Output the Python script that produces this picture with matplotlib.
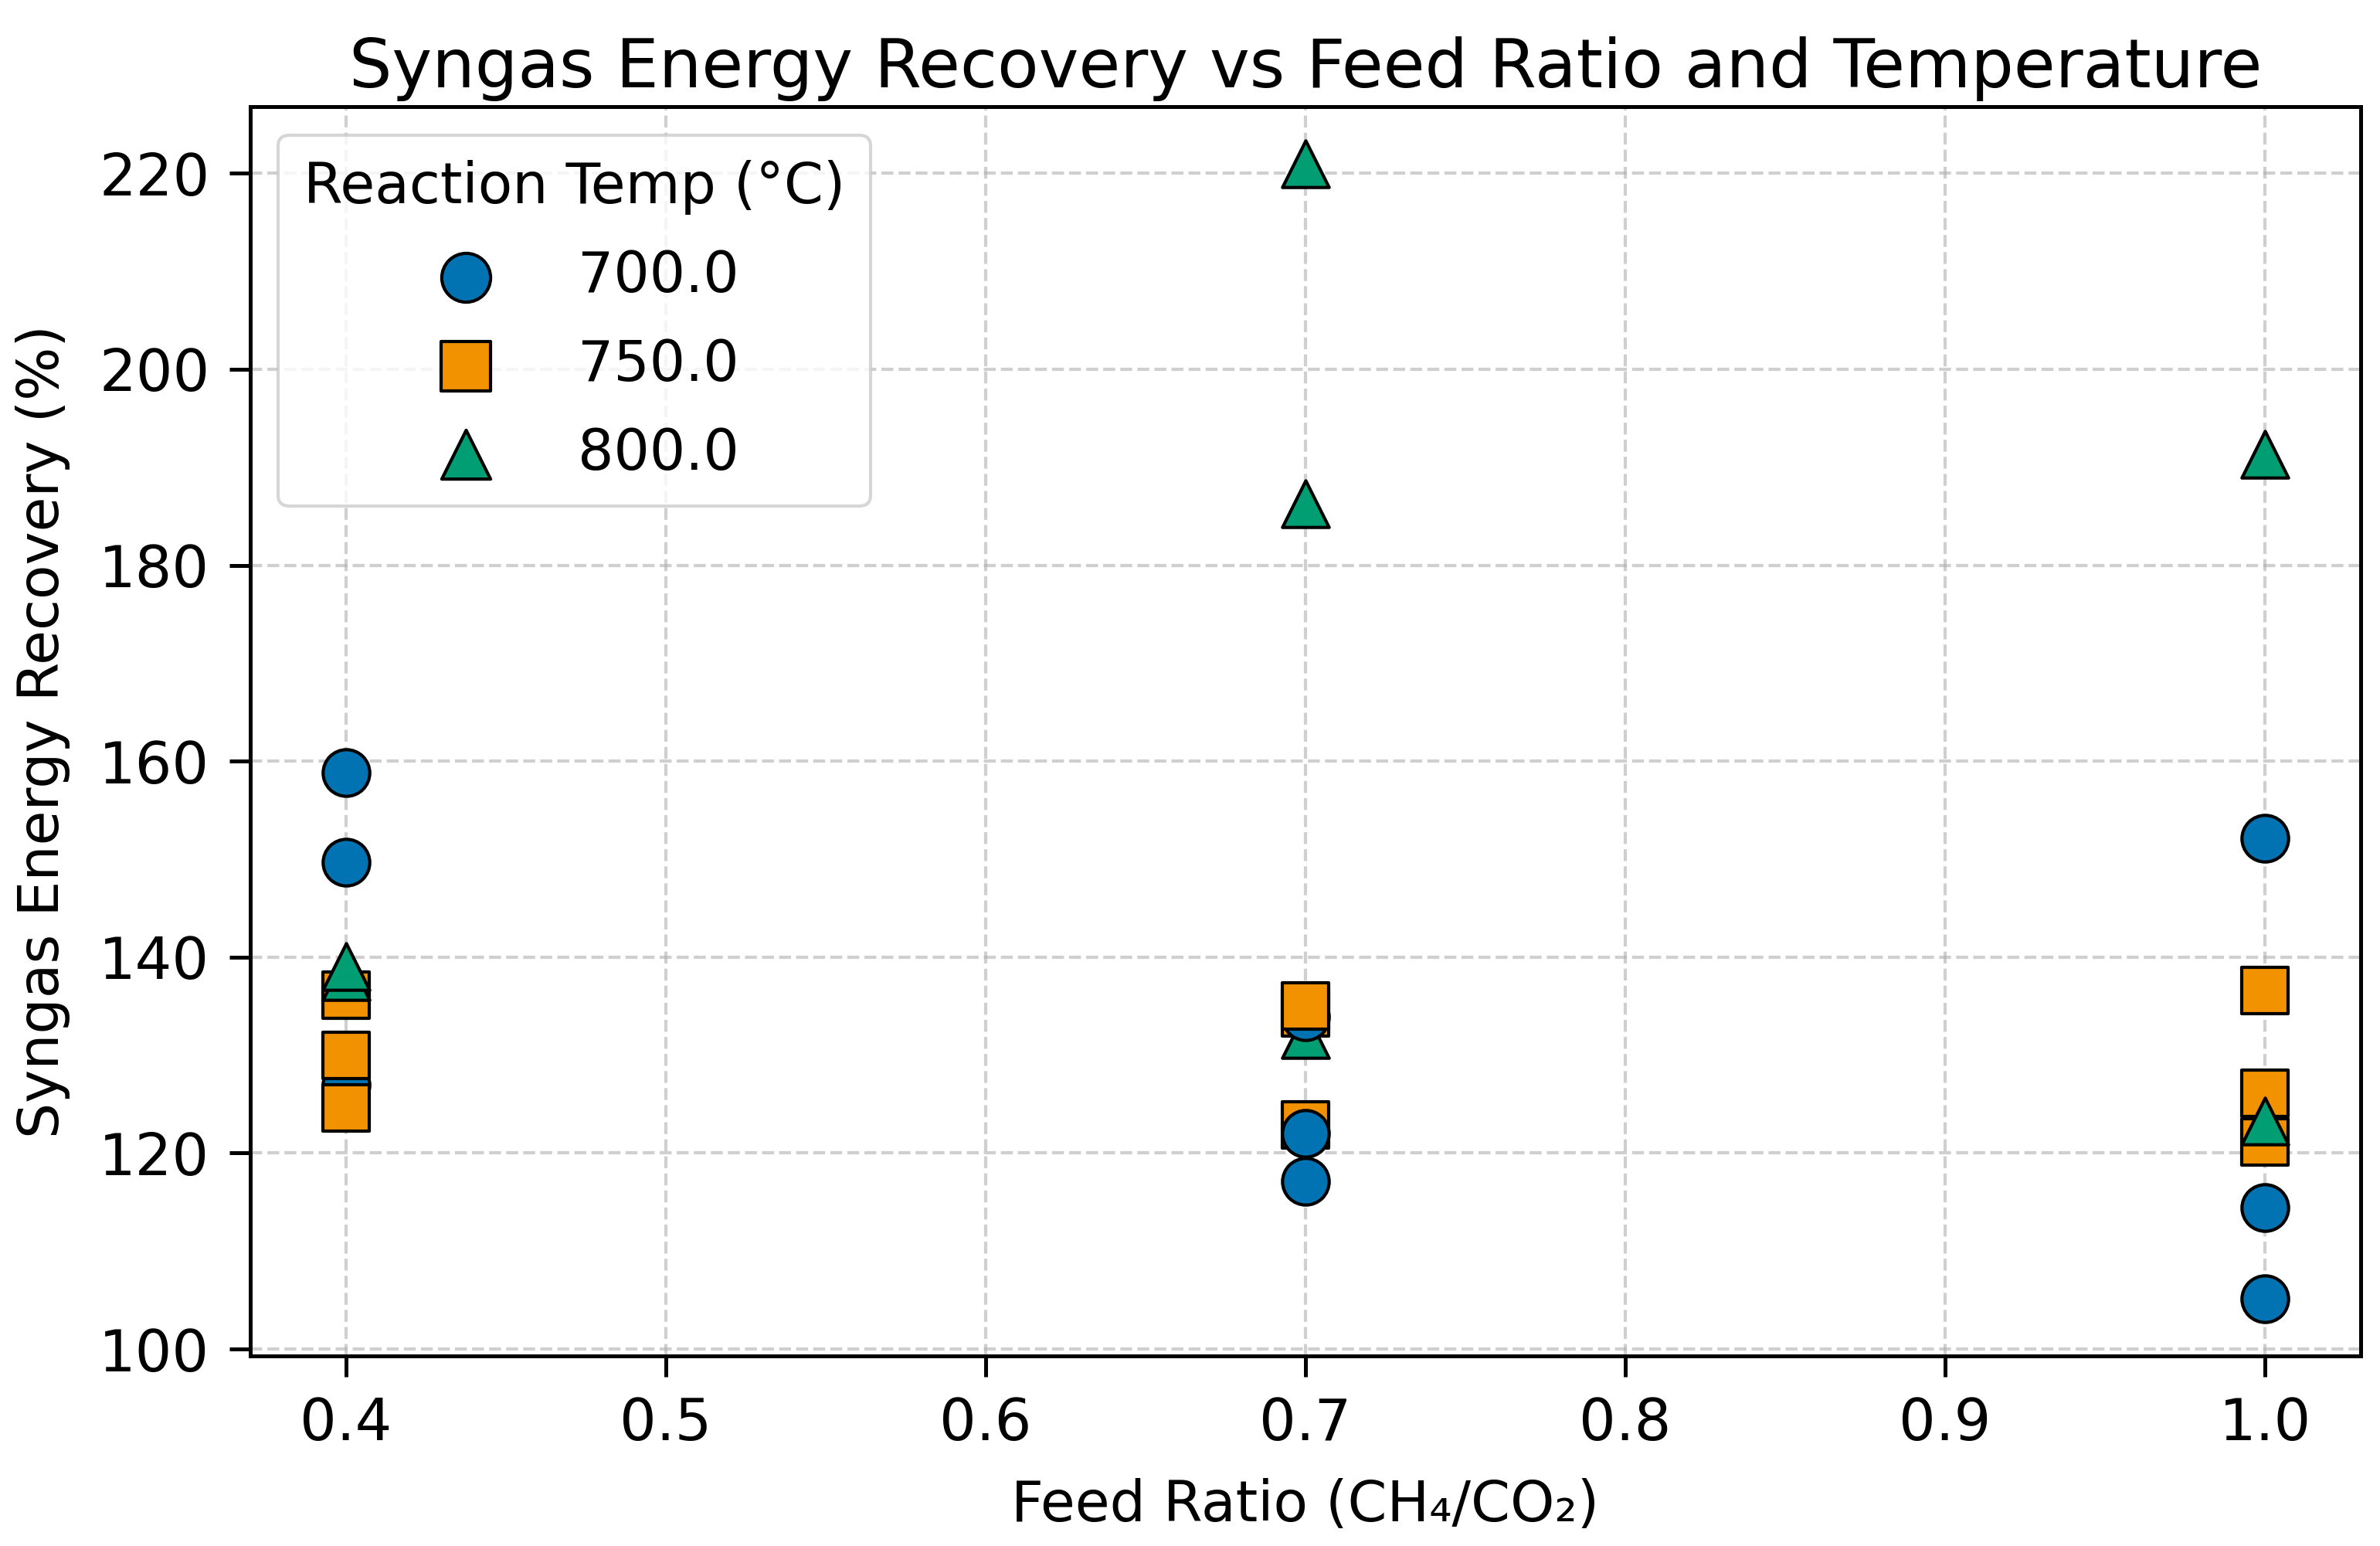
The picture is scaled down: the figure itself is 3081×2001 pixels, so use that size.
import numpy as np
import matplotlib.pyplot as plt

## data (listed in drawing order, later points sit on top) ##
feed_ratio = [0.7, 0.7, 0.7,
              0.4, 0.4, 0.4, 0.7, 0.7, 0.7, 1.0, 1.0, 1.0,
              0.4, 0.4, 0.4, 0.7, 1.0, 1.0, 1.0,
              0.4, 0.4, 0.7, 0.7, 1.0, 1.0]
temperature = [800, 750, 750,
               700, 700, 700, 700, 700, 700, 700, 700, 700,
               750, 750, 750, 750, 750, 750, 750,
               800, 800, 800, 800, 800, 800]
recovery = [132.1, 134.3, 122.9,
            158.8, 149.7, 127.0, 133.9, 122.0, 117.1, 152.1, 114.4, 105.1,
            136.1, 130.0, 124.6, 135.0, 136.6, 126.1, 121.1,
            138.0, 139.0, 221.0, 186.3, 191.3, 123.3]

temps = [700, 750, 800]
colors = {700: '#0173B2', 750: '#F39200', 800: '#029E73'}
markers = {700: 'o', 750: 's', 800: '^'}

plt.rcParams['font.family'] = 'DejaVu Sans'

fig = plt.figure(figsize=(10.27, 6.67), dpi=300)
ax = fig.add_axes([0.105, 0.123, 0.887, 0.808])

for i in range(len(recovery)):
    T = temperature[i]
    ax.scatter(feed_ratio[i], recovery[i], s=210, c=colors[T], marker=markers[T],
               edgecolors='black', linewidths=1.0, zorder=3 + i * 0.01)

# legend proxies
handles = []
for T in temps:
    h = ax.scatter([], [], s=230, c=colors[T], marker=markers[T],
                   edgecolors='black', linewidths=1.0, label=str(float(T)))
    handles.append(h)

ax.grid(True, linestyle='--', color='#b0b0b0', alpha=0.6, linewidth=1.0)
ax.tick_params(labelsize=18, length=6.5, width=1.2, pad=6)
for sp in ax.spines.values():
    sp.set_linewidth(1.2)
ax.set_xlabel('Feed Ratio (CH\u2084/CO\u2082)', fontsize=17.5, labelpad=8)
ax.set_ylabel('Syngas Energy Recovery (%)', fontsize=17.5, labelpad=9)
ax.set_title('Syngas Energy Recovery vs Feed Ratio and Temperature', fontsize=21)

leg = ax.legend(handles=handles, title='Reaction Temp (\u00b0C)', loc='upper left',
                fontsize=17.5, title_fontsize=17.5, labelspacing=0.6,
                handletextpad=1.0, borderpad=0.45)

fig.savefig('out.png', dpi=300)
